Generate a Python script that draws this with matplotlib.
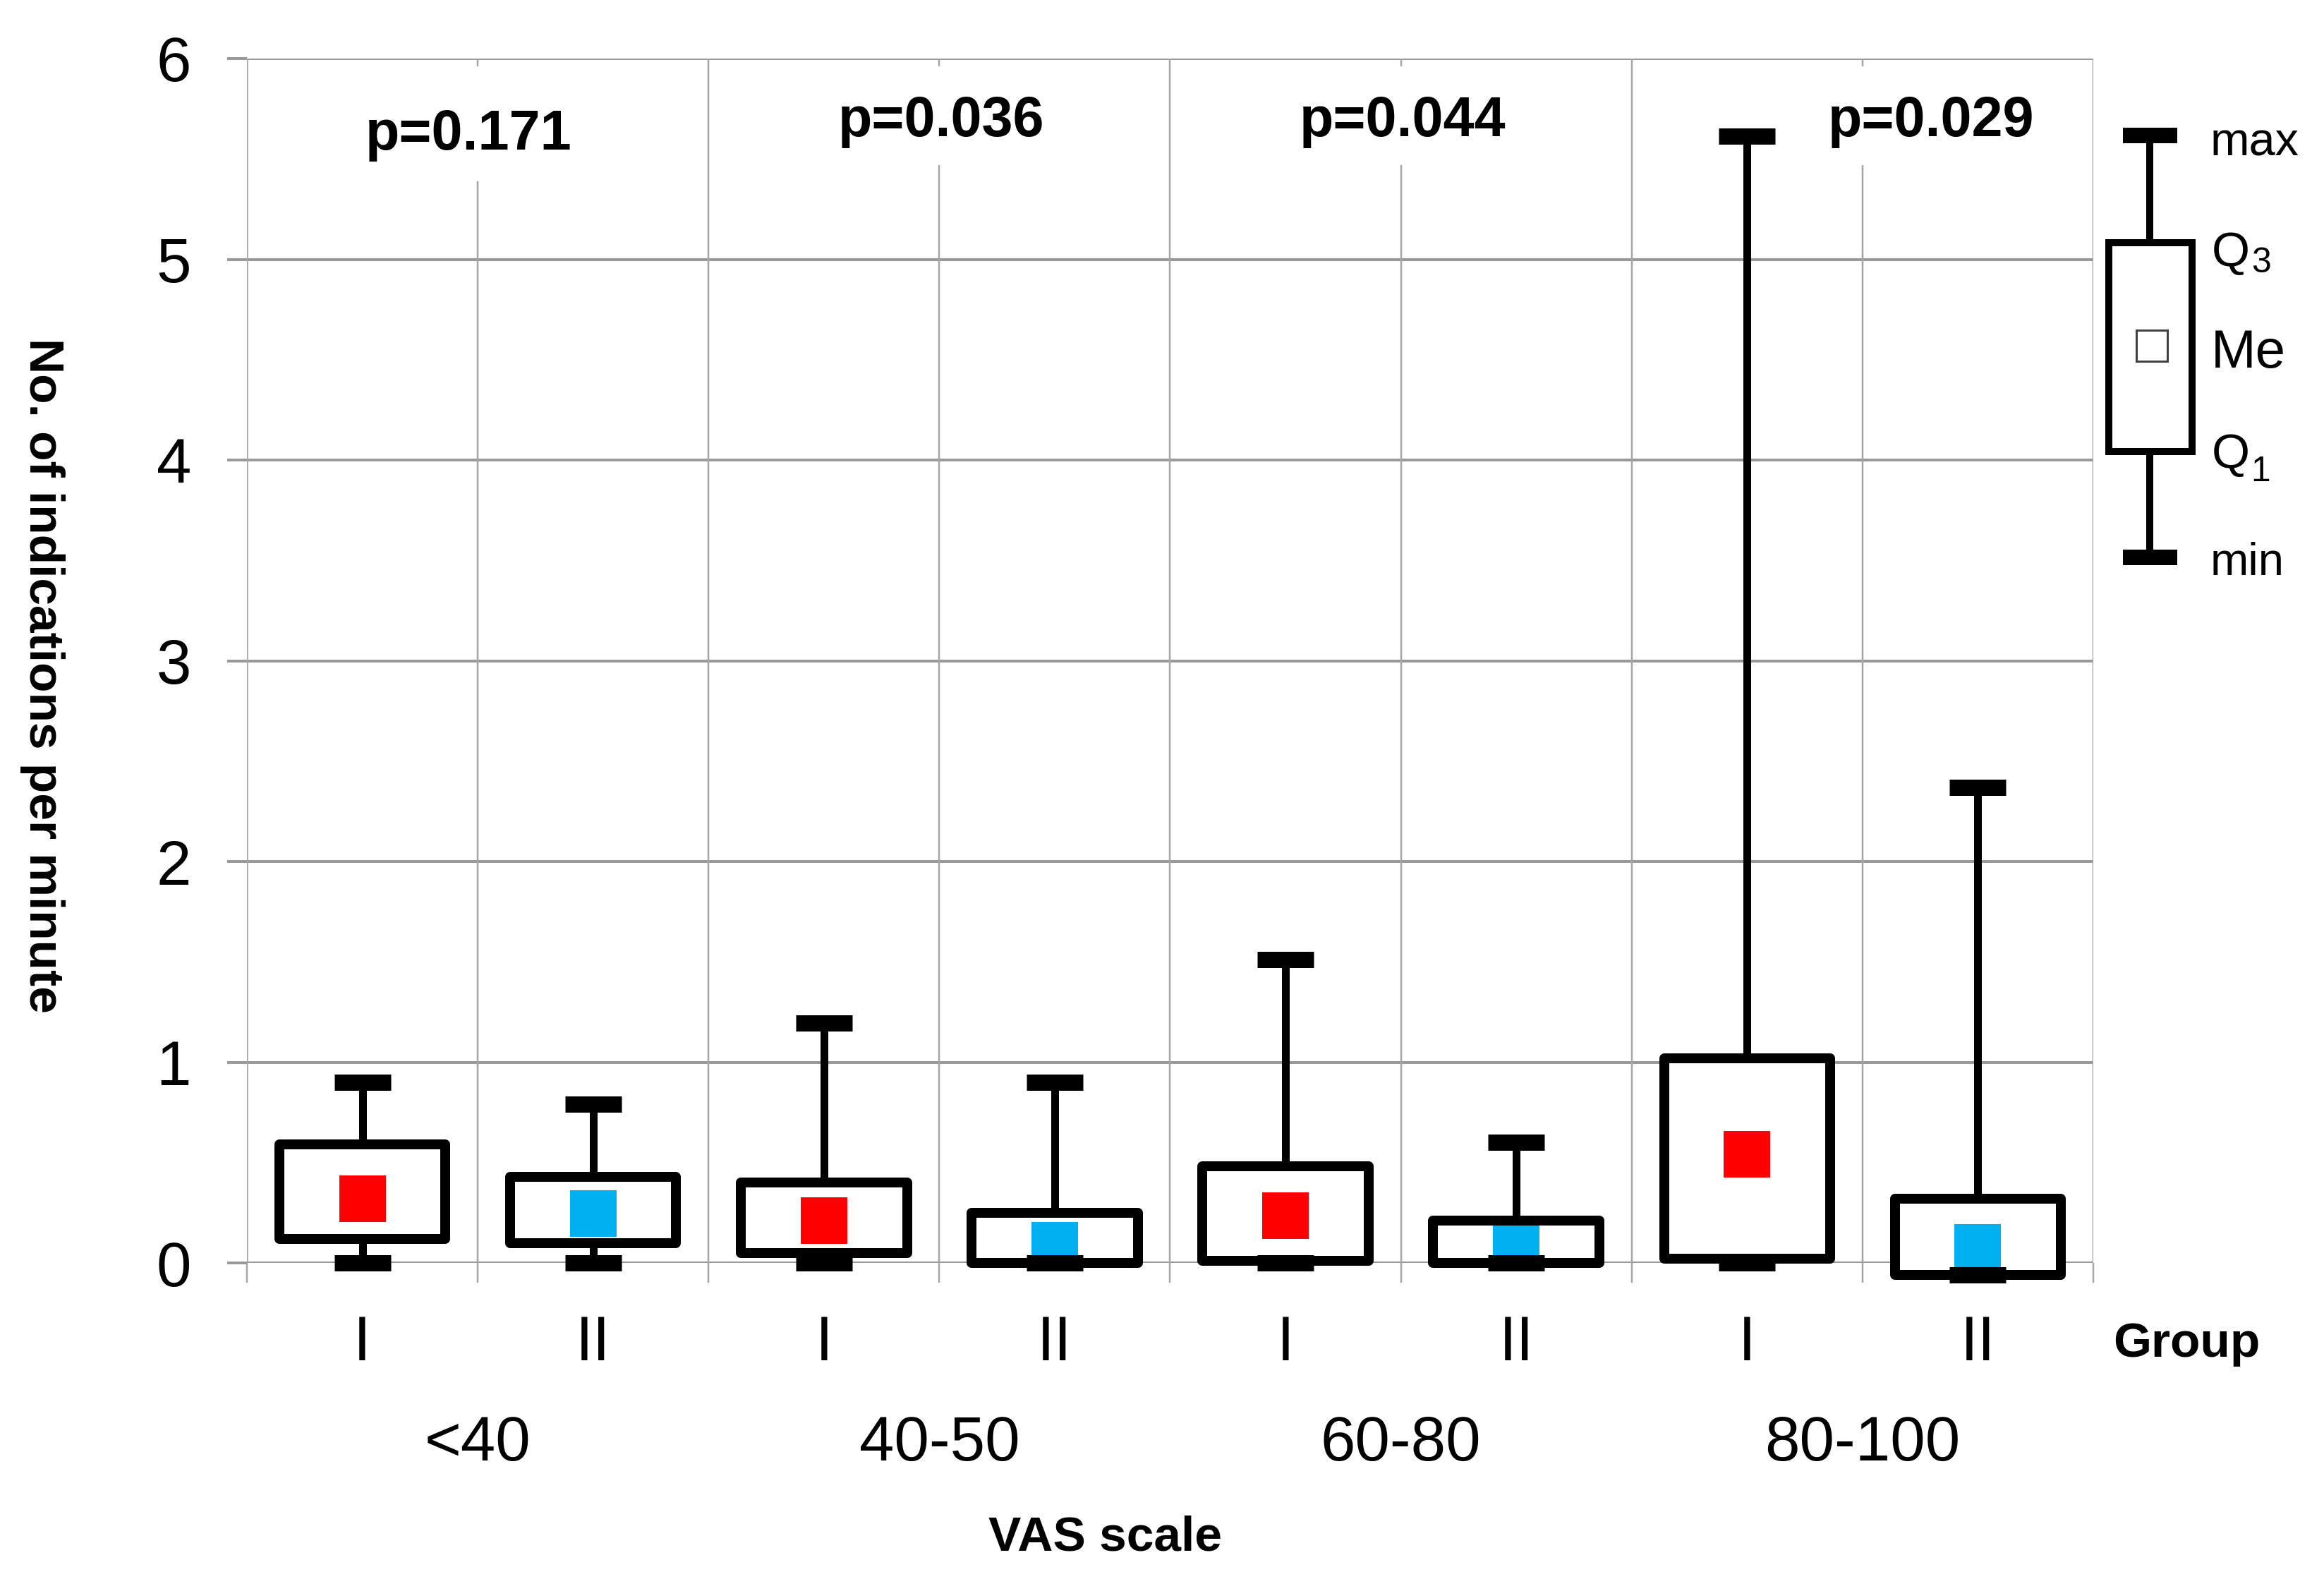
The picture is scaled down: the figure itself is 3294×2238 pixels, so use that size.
import matplotlib
matplotlib.use("Agg")
import matplotlib.pyplot as plt
from matplotlib.patches import Rectangle

plt.rcParams['font.family'] = ['Liberation Sans', 'DejaVu Sans']

# ---- data ----
vas_groups = ['<40', '40-50', '60-80', '80-100']
group_labels = ['I', 'II']
p_values = ['p=0.171', 'p=0.036', 'p=0.044', 'p=0.029']
mins = [0.00, 0.00, 0.00, 0.00, 0.00, 0.00, 0.00, -0.06]
q1s = [0.12, 0.10, 0.05, 0.00, 0.01, 0.00, 0.02, -0.06]
meds = [0.32, 0.247, 0.211, 0.089, 0.237, 0.075, 0.541, 0.077]
q3s = [0.59, 0.43, 0.40, 0.25, 0.48, 0.21, 1.02, 0.32]
maxs = [0.90, 0.79, 1.195, 0.90, 1.51, 0.60, 5.615, 2.37]
med_colors = ['#FF0000', '#00B0F0']

# ---- figure ----
W, H = 3294, 2238
fig = plt.figure(figsize=(W / 100, H / 100), dpi=100)
ax = fig.add_axes([350 / W, 1 - 1790 / H, 2617 / W, 1707 / H])
ax.set_xlim(0, 8)
ax.set_ylim(0, 6)
for s in ax.spines.values():
    s.set_visible(False)

PT = 0.72  # points per pixel at dpi 100
grid_c = '#999999'

# horizontal gridlines + y ticks
ax.set_yticks(range(7))
ax.set_yticklabels([str(v) for v in range(7)], fontsize=64)
ax.tick_params(axis='y', length=28 * PT, width=4 * PT, color=grid_c, pad=51 * PT)
ax.yaxis.grid(True, color=grid_c, linewidth=4 * PT, zorder=0.5)
ax.set_axisbelow(True)

# x ticks (boundaries), no labels
ax.set_xticks(range(9))
ax.set_xticklabels([])
ax.tick_params(axis='x', length=28 * PT, width=2.5 * PT, color='#a6a6a6')

# vertical separators
for k in range(9):
    top = 6 if k % 2 == 0 else (5.39 if k == 1 else 5.47)
    lw = (3.5 if k == 0 else 2.5) * PT
    ax.vlines(k, 0, top, color='#a6a6a6', linewidth=lw, zorder=0.6)
    if k % 2 == 1:
        ax.vlines(k, 5.96, 6, color='#a6a6a6', linewidth=lw, zorder=0.6)

# boxes
box_w = 0.72
cap_hw = 40 / 327.125
for i in range(len(meds)):
    c = i + 0.5
    # whiskers
    ax.vlines(c, q3s[i], maxs[i], color='black', linewidth=11 * PT, zorder=2, clip_on=False)
    ax.vlines(c, mins[i], q1s[i], color='black', linewidth=11 * PT, zorder=2, clip_on=False)
    # caps
    ax.plot([c - cap_hw, c + cap_hw], [maxs[i], maxs[i]], color='black', linewidth=23 * PT,
            solid_capstyle='butt', zorder=2, clip_on=False)
    ax.plot([c - cap_hw, c + cap_hw], [mins[i], mins[i]], color='black', linewidth=23 * PT,
            solid_capstyle='butt', zorder=6, clip_on=False)
    # box fill
    ax.add_patch(Rectangle((c - box_w / 2, q1s[i]), box_w, q3s[i] - q1s[i],
                           facecolor='white', edgecolor='none', zorder=3, clip_on=False))
    # median
    ax.plot([c], [meds[i]], marker='s', markersize=66 * PT, markeredgewidth=0,
            color=med_colors[i % 2], zorder=4, clip_on=False)
    # box outline
    ax.add_patch(Rectangle((c - box_w / 2, q1s[i]), box_w, q3s[i] - q1s[i],
                           facecolor='none', edgecolor='black', linewidth=14 * PT,
                           joinstyle='round', zorder=5, clip_on=False))

# group labels I / II
for i in range(len(meds)):
    ax.text(i + 0.5, -0.485, group_labels[i % 2], fontsize=64, ha='center', va='baseline')
ax.text(8.405, -0.467, 'Group', fontsize=50, fontweight='bold', ha='center', va='baseline')

# VAS categories
for j, g in enumerate(vas_groups):
    ax.text(2 * j + 1, -0.984, g, fontsize=64, ha='center', va='baseline')
ax.text(3.72, -1.434, 'VAS scale', fontsize=50, fontweight='bold', ha='center', va='baseline')

# p-values
p_x = [0.96, 3.008, 5.007, 7.297]
p_y = [5.547, 5.613, 5.613, 5.613]
for j, p in enumerate(p_values):
    ax.text(p_x[j], p_y[j], p, fontsize=57, fontweight='bold', ha='center', va='baseline')

# y label
fig.text(60 / W, 1 - 957 / H, 'No. of indications per minute', fontsize=50, fontweight='bold',
         rotation=-90, ha='center', va='center')

# legend (explanatory box)
lx = 8.245
l_max, l_q3, l_me, l_q1, l_min = 5.617, 5.083, 4.571, 4.042, 3.515
l_hw = 38.5 / 327.125
ax.vlines(lx, l_q3, l_max, color='black', linewidth=10 * PT, clip_on=False, zorder=2)
ax.vlines(lx, l_min, l_q1, color='black', linewidth=10 * PT, clip_on=False, zorder=2)
for v in (l_max, l_min):
    ax.plot([lx - l_hw, lx + l_hw], [v, v], color='black', linewidth=22 * PT,
            solid_capstyle='butt', clip_on=False, zorder=2)
ax.add_patch(Rectangle((8.066, l_q1), 8.428 - 8.066, l_q3 - l_q1, facecolor='white',
                       edgecolor='black', linewidth=10 * PT, clip_on=False, zorder=3))
ax.plot([8.255], [l_me], marker='s', markersize=44 * PT, markerfacecolor='white',
        markeredgecolor='#404040', markeredgewidth=3 * PT, clip_on=False, zorder=4)
ax.text(8.505, 5.518, 'max', fontsize=48, ha='left', va='baseline')
ax.text(8.514, 4.967, 'Q', fontsize=50, ha='left', va='baseline')
ax.text(8.684, 4.935, '3', fontsize=36, ha='left', va='baseline')
ax.text(8.511, 4.461, 'Me', fontsize=55, ha='left', va='baseline')
ax.text(8.514, 3.961, 'Q', fontsize=50, ha='left', va='baseline')
ax.text(8.682, 3.895, '1', fontsize=36, ha='left', va='baseline')
ax.text(8.505, 3.427, 'min', fontsize=47, ha='left', va='baseline')

fig.savefig('out.png', dpi=100, facecolor='white')
